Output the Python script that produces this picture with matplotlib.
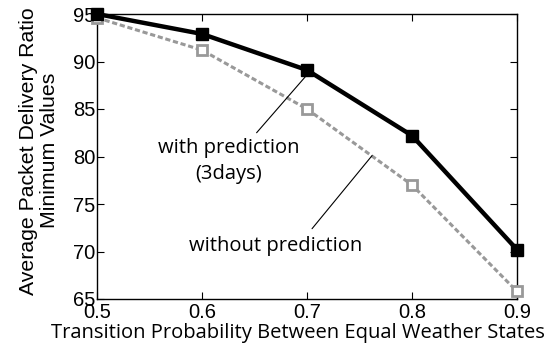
import matplotlib
matplotlib.use("Agg")
import matplotlib.pyplot as plt

x = [0.5, 0.6, 0.7, 0.8, 0.9]
with_pred = [95.0, 92.9, 89.1, 82.2, 70.2]
without_pred = [94.6, 91.2, 85.0, 77.0, 65.8]
xticks = [0.5, 0.6, 0.7, 0.8, 0.9]
yticks = [65, 70, 75, 80, 85, 90, 95]

fig = plt.figure(figsize=(5.49, 3.48), dpi=100)
ax = fig.add_axes([97/549, 1-299/348, 420/549, 285/348])

ax.plot(x, without_pred, color='#999999', lw=2.2, ls=(0, (1.7, 0.9)), marker='s',
        ms=6.5, mfc='white', mec='#999999', mew=2, clip_on=False, zorder=3)
ax.plot(x, with_pred, color='black', lw=3.2, marker='s', ms=9,
        mfc='black', mec='black', clip_on=False, zorder=4)

ax.set_xlim(0.5, 0.9)
ax.set_ylim(65, 95)
ax.set_xticks(xticks)
ax.set_yticks(yticks)
ax.set_xticklabels([str(v) for v in xticks], fontsize=14.5, family='Liberation Sans')
ax.set_yticklabels([str(v) for v in yticks], fontsize=14.5, family='Liberation Sans')
ax.tick_params(axis='x', direction='in', top=True, length=5, width=0.8, pad=3)
ax.tick_params(axis='y', direction='in', right=True, length=5, width=0.8, pad=1)
for s in ax.spines.values():
    s.set_linewidth(1.0)

ax.set_xlabel('Transition Probability Between Equal Weather States', fontsize=14.5,
              family='Open Sans', va='center')
ax.xaxis.set_label_coords((298 - 97) / 420, -(333 - 299) / 285)
ax.set_ylabel('Average Packet Delivery Ratio\nMinimum Values', fontsize=15.3,
              family='Liberation Sans', linespacing=1.1, va='center', ha='center')
ax.yaxis.set_label_coords((39 - 97) / 420, 0.52)

ax.text(0.6257, 79.5, 'with prediction\n(3days)', fontsize=14.5, family='Open Sans',
        ha='center', va='center', linespacing=1.4)
ax.text(0.6705, 70.6, 'without prediction', fontsize=14.5, family='Open Sans',
        ha='center', va='center')
ax.annotate('', xy=(0.700, 88.6), xytext=(0.652, 82.5),
            arrowprops=dict(arrowstyle='-', color='black', lw=0.8, shrinkA=0, shrinkB=0))
ax.annotate('', xy=(0.762, 80.1), xytext=(0.7048, 72.4),
            arrowprops=dict(arrowstyle='-', color='black', lw=0.8, shrinkA=0, shrinkB=0))

fig.savefig('out.png', dpi=100)
